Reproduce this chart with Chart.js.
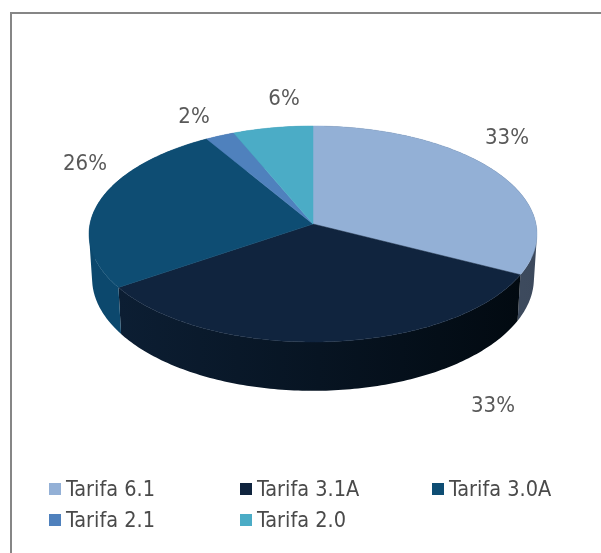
<!DOCTYPE html>
<html>
<head>
<meta charset="utf-8">
<script src="https://cdn.jsdelivr.net/npm/chart.js@4/dist/chart.umd.min.js"></script>
<style>
  html, body { margin: 0; padding: 0; background: #fff; }
  #frame { position: absolute; left: 10px; top: 12px; width: 591px; height: 541px; border-top: 2px solid #868686; border-left: 2px solid #868686; box-sizing: border-box; }
  #c { position: absolute; left: 0; top: 0; }
</style>
</head>
<body>
<div id="frame"></div>
<canvas id="c" width="601" height="553"></canvas>
<script>
const categories = ['Tarifa 6.1', 'Tarifa 3.1A', 'Tarifa 3.0A', 'Tarifa 2.1', 'Tarifa 2.0'];
const shares = [32.5, 33, 25.9, 2.3, 6.3];
const shownLabels = ['33%', '33%', '26%', '2%', '6%'];
const faceColors = ['#93b0d6', '#10243e', '#0e4d73', '#4f81bd', '#4bacc6'];
const wallLeft = ['#4a596e', '#0c1e33', '#0c486d', '#3d6596', '#3a889d'];
const wallRight = ['#3c495c', '#020a11', '#0c486d', '#3d6596', '#3a889d'];

const labelSpots = [[507, 136], [493, 404], [85, 162], [194, 115], [284, 97]];
const legendCols = [49, 240, 432];
const legendRows = [483, 514];

// perspective of the pie, all relative to the radius chart.js gives the arcs
const tilt = 0.0926;
const topDisc = { sx: 0.9955, sy: 0.478, dy: 0 };
const baseDisc = { sx: 0.982, sy: 0.498, dy: 0.196 };

function project(arc, disc, angle) {
  const u = Math.cos(angle);
  const v = Math.sin(angle);
  const d = 1 - tilt * v;
  const r = arc.outerRadius;
  return [arc.x + r * disc.sx * u / d, arc.y + r * disc.dy + r * disc.sy * v / d];
}

function rimPoints(arc, disc) {
  const pts = [];
  const steps = Math.max(2, Math.ceil((arc.endAngle - arc.startAngle) * 60));
  for (let i = 0; i <= steps; i++) {
    pts.push(project(arc, disc, arc.startAngle + (arc.endAngle - arc.startAngle) * i / steps));
  }
  return pts;
}

function signedArea(q) {
  let a = 0;
  q.forEach((p, i) => {
    const n = q[(i + 1) % q.length];
    a += p[0] * n[1] - n[0] * p[1];
  });
  return a;
}

const pie3d = {
  id: 'pie3d',
  beforeDatasetDraw(chart, args) {
    const ctx = chart.ctx;
    const arcs = args.meta.data;

    // side walls first, the top face covers whatever is at the back
    arcs.forEach((arc, i) => {
      const top = rimPoints(arc, topDisc);
      const base = rimPoints(arc, baseDisc);
      const xs = top.concat(base).map(p => p[0]);
      const g = ctx.createLinearGradient(Math.min(...xs), 0, Math.max(...xs), 0);
      g.addColorStop(0, wallLeft[i]);
      g.addColorStop(1, wallRight[i]);
      // quads all wound the same way in one path, so the fold of the wall leaves no hole
      ctx.beginPath();
      for (let j = 0; j < top.length - 1; j++) {
        let q = [top[j], top[j + 1], base[j + 1], base[j]];
        if (signedArea(q) < 0) q = q.reverse();
        q.forEach((p, k) => k ? ctx.lineTo(p[0], p[1]) : ctx.moveTo(p[0], p[1]));
        ctx.closePath();
      }
      ctx.fillStyle = g;
      ctx.fill();
    });

    arcs.forEach((arc, i) => {
      ctx.beginPath();
      ctx.moveTo(arc.x, arc.y);
      rimPoints(arc, topDisc).forEach(p => ctx.lineTo(p[0], p[1]));
      ctx.closePath();
      ctx.fillStyle = faceColors[i];
      ctx.strokeStyle = faceColors[i];
      ctx.lineWidth = 0.5;
      ctx.fill();
      ctx.stroke();
    });
    return false; // we drew the dataset ourselves
  },
  afterDraw(chart) {
    const ctx = chart.ctx;
    ctx.save();
    ctx.textBaseline = 'alphabetic';

    ctx.font = '22px "DejaVu Sans Condensed"';
    ctx.fillStyle = '#595959';
    ctx.textAlign = 'center';
    shownLabels.forEach((t, i) => ctx.fillText(t, labelSpots[i][0], labelSpots[i][1] + 8));

    ctx.font = '21.5px "DejaVu Sans Condensed"';
    ctx.textAlign = 'left';
    categories.forEach((t, i) => {
      const x = legendCols[i % 3];
      const y = legendRows[Math.floor(i / 3)];
      ctx.fillStyle = faceColors[i];
      ctx.fillRect(x, y, 12, 12);
      ctx.fillStyle = '#4a4a4a';
      ctx.fillText(t, x + 17, y + 13);
    });
    ctx.restore();
  }
};

new Chart(document.getElementById('c'), {
  type: 'pie',
  data: {
    labels: categories,
    datasets: [{ data: shares, backgroundColor: faceColors, borderWidth: 0 }]
  },
  options: {
    responsive: false,
    animation: false,
    layout: { padding: { left: 89, right: 64, top: 0, bottom: 105 } },
    plugins: { legend: { display: false }, tooltip: { enabled: false } }
  },
  plugins: [pie3d]
});
</script>
</body>
</html>
